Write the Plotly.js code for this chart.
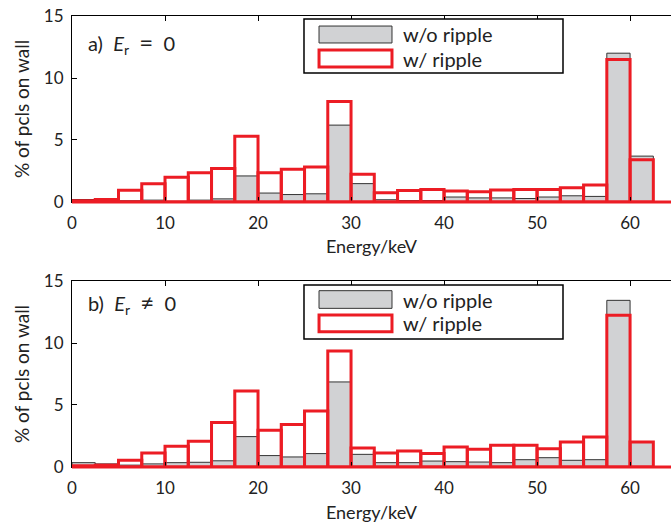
<!DOCTYPE html>
<html><head><meta charset="utf-8">
<script src="https://cdn.plot.ly/plotly-3.0.1.min.js"></script>
<style>body{margin:0;background:#fff}</style>
</head><body>
<div id="chart" style="width:671px;height:531px"></div>
<script>
// bin centres (keV), bin width 2.5 keV
const binCenters = [1.25,3.75,6.25,8.75,11.25,13.75,16.25,18.75,21.25,23.75,26.25,28.75,31.25,33.75,36.25,38.75,41.25,43.75,46.25,48.75,51.25,53.75,56.25,58.75,61.25];
const binWidth = 2.5;
// panel a) E_r = 0
const aNoRipple = [0.2,0.1,0.1,0.15,0.05,0.15,0.25,2.1,0.72,0.6,0.66,6.2,1.48,0.18,0.12,0.12,0.4,0.33,0.33,0.28,0.4,0.5,0.45,12.0,3.7];
const aRipple   = [0.1,0.2,0.95,1.48,2.0,2.35,2.7,5.3,2.35,2.64,2.83,8.1,2.24,0.75,0.93,1.0,0.88,0.83,0.96,1.0,1.0,1.15,1.37,11.5,3.4];
// panel b) E_r != 0
const bNoRipple = [0.35,0.25,0.15,0.25,0.35,0.38,0.5,2.45,0.92,0.81,1.08,6.86,1.02,0.35,0.35,0.48,0.43,0.4,0.35,0.59,0.75,0.54,0.59,13.44,2.0];
const bRipple   = [0.1,0.15,0.54,1.13,1.67,2.07,3.58,6.13,2.96,3.42,4.52,9.35,1.53,1.13,1.29,1.08,1.61,1.43,1.75,1.75,1.48,2.02,2.42,12.23,2.02];
const seriesNames = ['w/o ripple','w/ ripple'];
const panelLabels = ['a)  <i>E</i><sub>r</sub>  <span style="font-size:24px">=</span>  0','b)  <i>E</i><sub>r</sub>  <span style="font-size:24px">≠</span>  0'];
const xTicks = [0,10,20,30,40,50,60];
const yTicks = [0,5,10,15];

const RED = '#ec1c24', GREY = '#d1d2d4', DARK = '#222';
const FONT = 'Lato, "Open Sans", sans-serif';

function greyTrace(y, ax){
  return {type:'bar', x:binCenters, y:y, width:binWidth, xaxis:ax[0], yaxis:ax[1],
    marker:{color:GREY, line:{color:'#333', width:1}}, cliponaxis:false, showlegend:false, hoverinfo:'skip', name:seriesNames[0]};
}
function redTrace(y, ax){
  return {type:'bar', x:binCenters, y:y, width:binWidth, xaxis:ax[0], yaxis:ax[1],
    marker:{color:'rgba(0,0,0,0)', line:{color:RED, width:3}}, cliponaxis:false, showlegend:false, hoverinfo:'skip', name:seriesNames[1]};
}

const data = [
  greyTrace(aNoRipple, ['x','y']), redTrace(aRipple, ['x','y']),
  greyTrace(bNoRipple, ['x2','y2']), redTrace(bRipple, ['x2','y2'])
];

const domA = [0.5876, 1], domB = [0, 0.4124];

function xax(anchor){
  return {range:[0,64.4], anchor:anchor, tickvals:xTicks, ticks:'inside', ticklen:5, tickcolor:'#000',
    showline:true, linecolor:'#000', linewidth:1, mirror:'ticks', showgrid:false, zeroline:false,
    tickfont:{family:FONT, size:17, color:DARK}, ticklabelstandoff:6,
    title:{text:'Energy/keV', font:{family:FONT, size:18, color:DARK}, standoff:8}, automargin:false, fixedrange:true};
}
function yax(anchor, dom){
  return {range:[0,15], domain:dom, anchor:anchor, tickvals:yTicks, ticks:'inside', ticklen:5, tickcolor:'#000',
    showline:true, linecolor:'#000', linewidth:1, mirror:false, showgrid:false, zeroline:false,
    tickfont:{family:FONT, size:17, color:DARK}, ticklabelstandoff:4,
    title:{text:'% of pcls on wall', font:{family:FONT, size:19, color:DARK}, standoff:9}, automargin:false, fixedrange:true};
}

function legendShapes(xr, yr, box, g, r){
  return [
    {type:'rect', xref:xr, yref:yr, x0:0.3873, x1:0.8197, y0:box[0], y1:box[1], line:{color:'#000', width:1.5}, fillcolor:'#fff', layer:'above'},
    {type:'rect', xref:xr, yref:yr, x0:0.4124, x1:0.5342, y0:g[0], y1:g[1], line:{color:'#333', width:1}, fillcolor:GREY, layer:'above'},
    {type:'rect', xref:xr, yref:yr, x0:0.4124, x1:0.5342, y0:r[0], y1:r[1], line:{color:RED, width:3}, fillcolor:'rgba(0,0,0,0)', layer:'above'}
  ];
}

const shapes = [
  {type:'line', xref:'x domain', yref:'paper', x0:0, x1:1, y0:domA[0], y1:domA[0], line:{color:RED, width:3}, layer:'above'},
  {type:'line', xref:'x2 domain', yref:'paper', x0:0, x1:1, y0:domB[0], y1:domB[0], line:{color:RED, width:3}, layer:'above'},
  ...legendShapes('x domain','y domain',[0.6935,0.984],[0.855,0.946],[0.726,0.817]),
  ...legendShapes('x2 domain','y2 domain',[0.688,0.978],[0.853,0.948],[0.727,0.817])
];

function txt(xr, yr, x, y, t, s){
  return {xref:xr, yref:yr, x:x, y:y, text:t, showarrow:false, xanchor:'left', yanchor:'middle',
    font:{family:FONT, size:s, color:DARK}};
}
const annotations = [
  txt('x domain','y domain',0.024,0.86,panelLabels[0],20),
  txt('x2 domain','y2 domain',0.024,0.882,panelLabels[1],20),
  txt('x domain','y domain',0.549,0.903,seriesNames[0],20),
  txt('x domain','y domain',0.549,0.769,seriesNames[1],20),
  txt('x2 domain','y2 domain',0.549,0.898,seriesNames[0],20),
  txt('x2 domain','y2 domain',0.549,0.774,seriesNames[1],20)
];

const layout = {
  width:671, height:531, margin:{l:72, r:0, t:16, b:64},
  paper_bgcolor:'#fff', plot_bgcolor:'#fff', barmode:'overlay', bargap:0,
  showlegend:false,
  xaxis:xax('y'), yaxis:yax('x', domA),
  xaxis2:xax('y2'), yaxis2:yax('x2', domB),
  shapes:shapes, annotations:annotations, font:{family:FONT}
};
Plotly.newPlot('chart', data, layout, {displayModeBar:false, staticPlot:true});
</script>
</body></html>
